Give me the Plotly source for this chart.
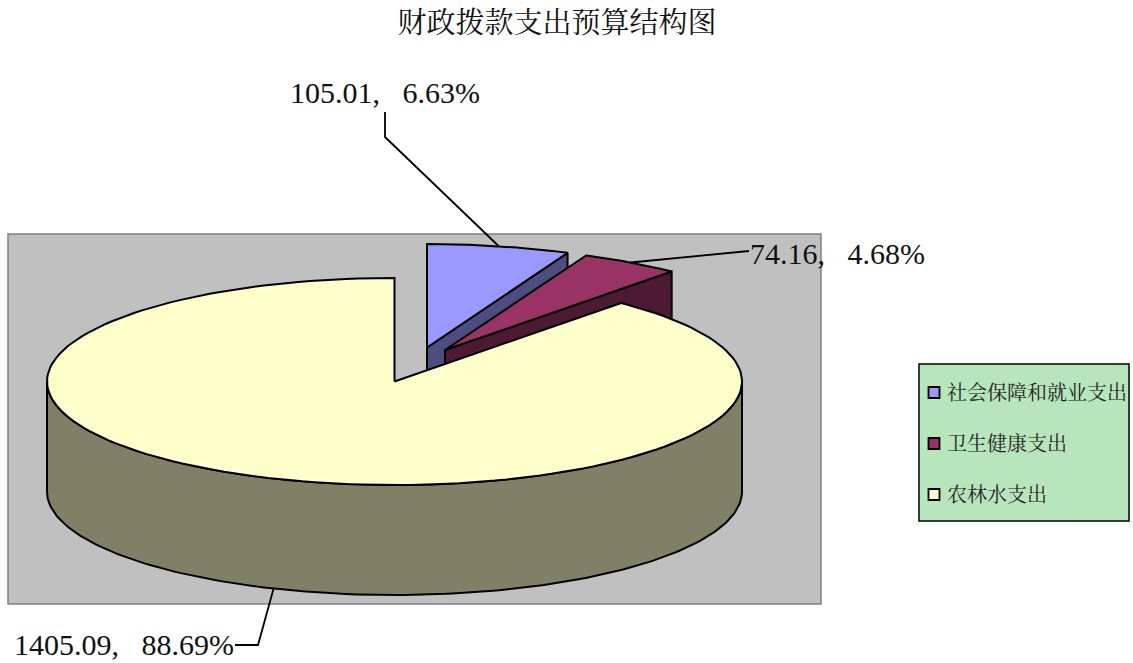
import numpy as np
import plotly.graph_objects as go

# ---- data ----
categories = ["社会保障和就业支出", "卫生健康支出", "农林水支出"]
values = [105.01, 74.16, 1405.09]
value_labels = ["105.01", "74.16", "1405.09"]
title_text = "财政拨款支出预算结构图"

# ---- style / layout ----
W, H = 1133, 663
top_colors = ["#9999FF", "#993366", "#FFFFCC"]
side_colors = ["#4D4D80", "#4D1A33", "#808066"]
RX, RY, DEPTH = 347.5, 103.5, 110
centers = [(427, 347.5), (445, 350), (394.5, 381.5)]   # exploded pie centres
LINE = dict(color="black", width=2)
SERIF = "Liberation Serif, serif"
CJK = "SimSun, Noto Serif CJK SC, Noto Sans CJK SC, sans-serif"

total = sum(values)
shares = [v / total for v in values]
edges = np.concatenate([[0], np.cumsum(shares)]) * 2 * np.pi


def rim(c, a0, a1, n=160, dz=0):
    t = np.linspace(a0, a1, n)
    return c[0] + RX * np.sin(t), c[1] - RY * np.cos(t) + dz


fig = go.Figure()


def poly(x, y, color):
    fig.add_trace(go.Scatter(x=list(x), y=list(y), mode="lines", fill="toself",
                             fillcolor=color, line=LINE, showlegend=False,
                             hoverinfo="skip"))


for i in range(3):
    c = centers[i]
    a0, a1 = edges[i], edges[i + 1]
    if i < 2:
        # cut faces visible in front of the small wedges
        ex, ey = rim(c, a1, a1, 1)
        poly([c[0], ex[0], ex[0], c[0], c[0]],
             [c[1], ey[0], ey[0] + DEPTH, c[1] + DEPTH, c[1]], side_colors[i])
    else:
        # outer wall: front half of the rim
        xt, yt = rim(c, np.pi / 2, 1.5 * np.pi)
        xb, yb = rim(c, 1.5 * np.pi, np.pi / 2, dz=DEPTH)
        poly(np.r_[xt, xb, xt[0]], np.r_[yt, yb, yt[0]], side_colors[i])
    xr, yr = rim(c, a0, a1)
    poly(np.r_[c[0], xr, c[0]], np.r_[c[1], yr, c[1]], top_colors[i])

# leader lines, anchored on each wedge's mid-angle
mid = (edges[:-1] + edges[1:]) / 2
m0 = rim(centers[0], mid[0], mid[0], 1)
m1 = rim(centers[1], mid[1], mid[1], 1)
m2 = rim(centers[2], mid[2], mid[2], 1, dz=DEPTH)
leaders = [([385, 385, m0[0][0]], [112, 137, m0[1][0]]),
           ([749, m1[0][0]], [251, m1[1][0]]),
           ([235, 258, m2[0][0]], [645, 645, m2[1][0]])]
for lx, ly in leaders:
    fig.add_trace(go.Scatter(x=lx, y=ly, mode="lines", showlegend=False,
                             hoverinfo="skip", line=dict(color="black", width=1.8)))

# legend entries
for i, name in enumerate(categories):
    fig.add_trace(go.Scatter(x=[None], y=[None], mode="markers", name=name,
                             legendgroup=name,
                             marker=dict(symbol="square", size=11, color=top_colors[i],
                                         line=dict(color="black", width=1.8))))

labels = [f"{value_labels[i]},\u00a0\u00a0\u00a0{shares[i] * 100:.2f}%" for i in range(3)]
label_pos = [(288, 92), (748, 253), (12, 644)]
annotations = [dict(x=p[0], y=p[1], text=t, xref="x", yref="y", showarrow=False,
                    xanchor="left", yanchor="middle",
                    font=dict(family=SERIF, size=30, color="#111111"))
               for p, t in zip(label_pos, labels)]

shapes = [
    dict(type="rect", x0=8, x1=821, y0=234, y1=604, xref="x", yref="y", layer="below",
         fillcolor="#C0C0C0", line=dict(color="#808080", width=1.5)),
    dict(type="rect", x0=919, x1=1129, y0=364, y1=521, xref="x", yref="y", layer="below",
         fillcolor="#B8E6BC", line=dict(color="black", width=1.5)),
]

fig.update_layout(
    width=W, height=H, margin=dict(l=0, r=0, t=0, b=0),
    paper_bgcolor="white", plot_bgcolor="white", showlegend=True,
    title=dict(text=title_text, x=557 / W, xref="paper", xanchor="center",
               y=1 - 23 / H, yref="container", yanchor="middle",
               font=dict(family=CJK, size=29, color="#111111")),
    xaxis=dict(range=[0, W], visible=False, fixedrange=True),
    yaxis=dict(range=[H, 0], visible=False, fixedrange=True),
    legend=dict(x=907 / W, y=1 - 373 / H, xanchor="left", yanchor="top",
                bgcolor="rgba(0,0,0,0)", borderwidth=0, tracegroupgap=22,
                traceorder="grouped",
                font=dict(family=CJK, size=20, color="#222222")),
    shapes=shapes, annotations=annotations,
)

post = """
document.body.style.margin='0';
document.querySelectorAll('.legendsymbols').forEach(function(g){g.setAttribute('transform','translate(7,0)');});
"""
fig.write_html("out.html", post_script=post, config={"displayModeBar": False})
